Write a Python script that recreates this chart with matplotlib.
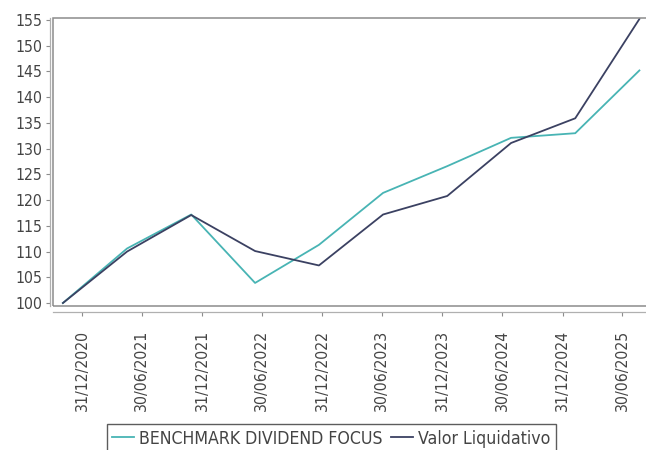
import datetime as dt
import matplotlib
matplotlib.use("Agg")
import matplotlib.pyplot as plt
import matplotlib.dates as mdates
from matplotlib.patches import Rectangle

# ========== 数据 ==========
fechas = [
    dt.date(2020, 11, 3), dt.date(2021, 5, 17), dt.date(2021, 11, 28),
    dt.date(2022, 6, 10), dt.date(2022, 12, 21), dt.date(2023, 7, 4),
    dt.date(2024, 1, 15), dt.date(2024, 7, 27), dt.date(2025, 2, 7),
    dt.date(2025, 8, 21),
]
benchmark = [100.0, 110.6, 117.2, 103.9, 111.3, 121.4, 126.6, 132.1, 133.0, 145.2]
valor_liq = [100.0, 110.0, 117.1, 110.1, 107.3, 117.2, 120.8, 131.1, 135.9, 155.2]

tick_fechas = [
    dt.date(2020, 12, 31), dt.date(2021, 6, 30), dt.date(2021, 12, 31),
    dt.date(2022, 6, 30), dt.date(2022, 12, 31), dt.date(2023, 6, 30),
    dt.date(2023, 12, 31), dt.date(2024, 6, 30), dt.date(2024, 12, 31),
    dt.date(2025, 6, 30),
]
y_ticks = list(range(100, 160, 5))

label_bench = "BENCHMARK DIVIDEND FOCUS"
label_valor = "Valor Liquidativo"

# ========== 样式 ==========
COLOR_BENCH = "#48b4b4"
COLOR_VALOR = "#3b4162"
COLOR_TEXT = "#444444"
COLOR_AXIS = "#8c8c8c"
PX = 72 / 100  # 1 像素对应的磅数

plt.rcParams["font.family"] = ["DejaVu Sans"]
plt.rcParams["font.stretch"] = "condensed"

fig = plt.figure(figsize=(6.46, 4.5), dpi=100)
ax = fig.add_axes([0.0816, 0.3207, 0.925, 0.6386])

ax.plot(fechas, benchmark, color=COLOR_BENCH, lw=1.3, label=label_bench, zorder=3)
ax.plot(fechas, valor_liq, color=COLOR_VALOR, lw=1.3, label=label_valor, zorder=4)

ax.set_xlim(dt.date(2020, 10, 3), dt.date(2025, 9, 23))
ax.set_ylim(99.48, 155.33)

ax.set_yticks(y_ticks)
ax.set_xticks(tick_fechas)
ax.xaxis.set_major_formatter(mdates.DateFormatter("%d/%m/%Y"))

ax.tick_params(axis="both", direction="out", length=4 * PX, width=0.8,
               color=COLOR_AXIS, labelsize=11.3, labelcolor=COLOR_TEXT)
ax.tick_params(axis="y", pad=3 * PX)
ax.tick_params(axis="x", labelrotation=90, pad=14 * PX)

# 轴线外移，绘图区单独画边框
for side in ["top", "right"]:
    ax.spines[side].set_visible(False)
ax.spines["left"].set_position(("outward", 3 * PX))
ax.spines["bottom"].set_position(("outward", 6 * PX))
for side in ["left", "bottom"]:
    ax.spines[side].set_color("#b0b0b0")
    ax.spines[side].set_linewidth(0.9)

ax.add_patch(Rectangle((0, 0), 1, 1, transform=ax.transAxes, fill=False,
                       edgecolor=COLOR_AXIS, lw=1.1, clip_on=False, zorder=5))

leg = fig.legend(loc="upper center", bbox_to_anchor=(0.513, 0.058), ncol=2,
                 frameon=True, fancybox=False, fontsize=12.7,
                 handlelength=1.25, handletextpad=0.3, columnspacing=0.45,
                 borderpad=0.32, borderaxespad=0)
leg.get_frame().set_edgecolor("#333333")
leg.get_frame().set_linewidth(1.0)
for t in leg.get_texts():
    t.set_color(COLOR_TEXT)

fig.savefig("out.png", dpi=100)
